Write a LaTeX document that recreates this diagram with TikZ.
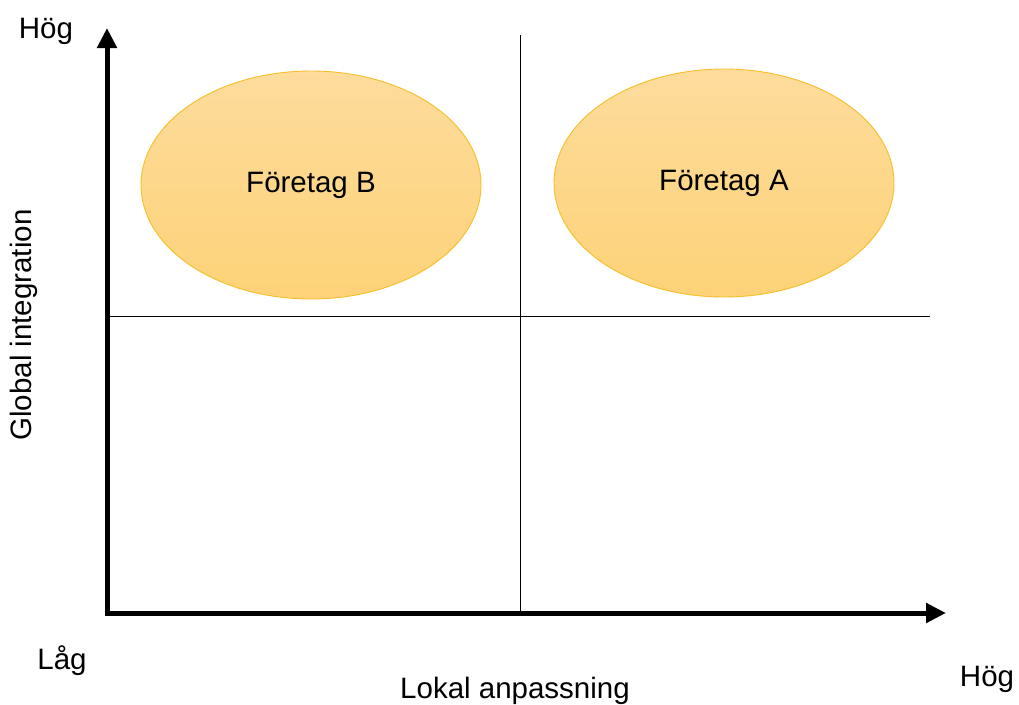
\documentclass[tikz,border=0pt]{standalone}
\usepackage{fontspec}
\setmainfont{Liberation Sans}
\usepackage{tikz}
\usetikzlibrary{arrows.meta,shapes.geometric,positioning}
\definecolor{bubbletop}{RGB}{253,220,156}
\definecolor{bubblebot}{RGB}{253,210,120}
\definecolor{bubbleline}{RGB}{246,190,40}

\begin{document}
\begin{tikzpicture}[x=1pt,y=-1pt,
  lbl/.style={font=\fontsize{29.5}{35}\selectfont},
  axis/.style={line width=5pt,-{Triangle[length=20pt,width=19pt]}},
  split/.style={line width=0.9pt},
  bubble/.style={ellipse,draw=bubbleline,line width=0.9pt,top color=bubbletop,
    bottom color=bubblebot,minimum width=340pt,minimum height=228pt,lbl}]
  \useasboundingbox (0,0) rectangle (1019,704);
  % axes
  \coordinate (o) at (107,613);
  \coordinate (ytop) at (107,28);
  \coordinate (xend) at (946,613);
  % quadrant lines
  \coordinate (vtop) at (520,35);
  \coordinate (vbot) at (520,613);
  \coordinate (hleft) at (107,316);
  \coordinate (hright) at (930,316);
  \draw[split] (vtop) -- (vbot);
  \draw[split] (hleft) -- (hright);
  \draw[axis] ([yshift=2.5pt]o) -- (ytop);
  \draw[axis] ([xshift=-2.5pt]o) -- (xend);
  % the two firms
  \node[bubble] (fb) at (311,185) {Företag B};
  \node[bubble] (fa) at (724,183) {Företag A};
  % axis labels
  \node[lbl] (yhi) at (46,31) {Hög};
  \node[lbl,rotate=90] (ylab) at (24,325) {Global integration};
  \node[lbl] (lo) at (62,661) {Låg};
  \node[lbl] (xlab) at (515,691) {Lokal anpassning};
  \node[lbl] (xhi) at (987,679) {Hög};
\end{tikzpicture}
\end{document}
